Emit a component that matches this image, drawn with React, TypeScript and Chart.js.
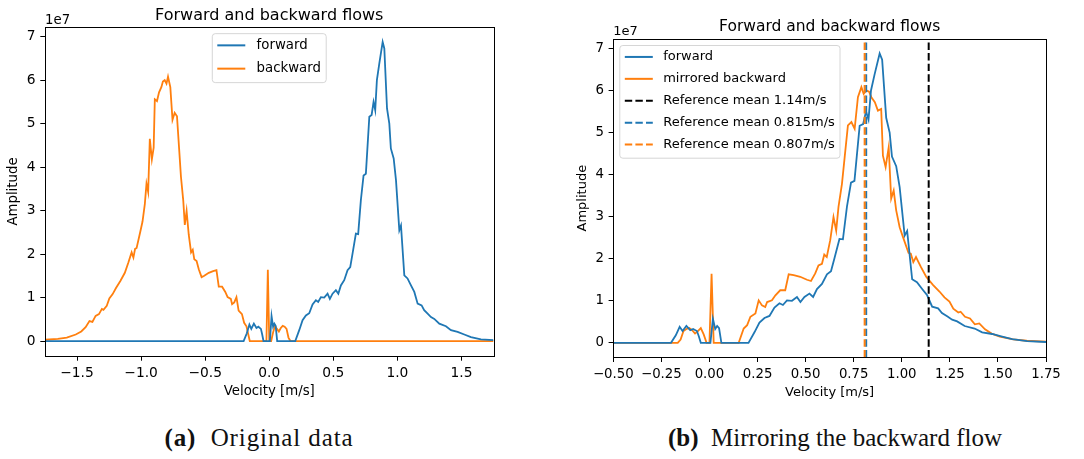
import React, { useEffect, useRef } from "react";
import { Chart, registerables } from "chart.js";

Chart.register(...registerables);

// Forward flow spectrum: velocity [m/s] and amplitude (units of 1e7)
const forwardVelocity = [
  -1.75, -0.2, -0.175, -0.155, -0.14, -0.12, -0.1, -0.085, -0.065, -0.055,
  -0.045, 0.005, 0.018, 0.03, 0.04, 0.05, 0.062, 0.203, 0.234, 0.26,
  0.286, 0.312, 0.338, 0.364, 0.382, 0.403, 0.429, 0.455, 0.473, 0.494,
  0.52, 0.539, 0.559, 0.585, 0.611, 0.632, 0.65, 0.676, 0.694, 0.715,
  0.736, 0.754, 0.781, 0.799, 0.814, 0.827, 0.84, 0.859, 0.885, 0.898,
  0.919, 0.937, 0.949, 0.971, 0.989, 1.015, 1.028, 1.054, 1.079, 1.106,
  1.132, 1.158, 1.189, 1.209, 1.236, 1.262, 1.288, 1.327, 1.379, 1.418,
  1.47, 1.522, 1.574, 1.652, 1.75,
];
const forwardAmplitude = [
  0, 0, 0.18, 0.38, 0.28, 0.4, 0.3, 0.33, 0.28, 0.15,
  0, 0, 0.57, 0.33, 0.4, 0.35, 0, 0, 0.25, 0.48,
  0.59, 0.64, 0.84, 0.94, 0.9, 1.01, 1.0, 1.09, 0.97, 1.09,
  1.17, 1.09, 1.28, 1.4, 1.63, 1.7, 2.01, 2.47, 2.46, 3.24,
  3.81, 3.85, 5.16, 5.2, 5.5, 5.31, 6.0, 6.39, 6.88, 6.73,
  5.35, 5.0, 4.43, 4.2, 3.7, 2.55, 2.66, 1.51, 1.44, 1.28,
  1.13, 0.86, 0.82, 0.71, 0.63, 0.55, 0.51, 0.4, 0.34, 0.25,
  0.21, 0.15, 0.09, 0.04, 0.02,
];

// Backward flow spectrum: velocity [m/s] and amplitude (units of 1e7)
const backwardVelocity = [
  -1.75, -1.65, -1.58, -1.51, -1.467, -1.433, -1.403, -1.38, -1.355, -1.329,
  -1.306, -1.294, -1.268, -1.248, -1.222, -1.196, -1.162, -1.127, -1.1, -1.087,
  -1.074, -1.06, -1.047, -1.035, -1.006, -0.989, -0.971, -0.958, -0.945, -0.932,
  -0.916, -0.902, -0.893, -0.876, -0.86, -0.842, -0.83, -0.816, -0.802, -0.79,
  -0.772, -0.755, -0.738, -0.72, -0.703, -0.689, -0.671, -0.659, -0.645, -0.628,
  -0.61, -0.597, -0.585, -0.567, -0.55, -0.528, -0.507, -0.472, -0.438, -0.412,
  -0.394, -0.368, -0.343, -0.325, -0.3, -0.29, -0.273, -0.256, -0.239, -0.213,
  -0.196, -0.178, -0.152, -0.022, -0.011, 0, 0.015, 0.03, 0.045, 0.06,
  0.075, 0.09, 0.105, 0.12, 0.135, 0.15, 0.165, 1.75,
];
const backwardAmplitude = [
  0.03, 0.05, 0.08, 0.15, 0.22, 0.32, 0.46, 0.44, 0.58, 0.62,
  0.74, 0.72, 0.81, 0.98, 1.08, 1.22, 1.38, 1.57, 1.8, 1.92,
  2.04, 1.92, 2.12, 2.14, 2.52, 2.75, 3.15, 3.62, 3.43, 4.65,
  4.18, 4.45, 5.56, 5.52, 5.72, 5.84, 5.97, 6.0, 5.92, 6.08,
  5.84, 5.09, 5.25, 5.17, 4.41, 3.78, 3.23, 2.67, 2.99, 2.44,
  2.04, 2.1, 1.88, 1.84, 1.65, 1.47, 1.5, 1.57, 1.61, 1.63,
  1.25, 1.25, 1.13, 1.01, 0.97, 0.85, 0.89, 1.01, 0.7, 0.62,
  0.42, 0.34, 0, 0, 1.64, 0, 0, 0.2, 0.35, 0.28,
  0.22, 0.3, 0.35, 0.33, 0.28, 0.08, 0, 0,
];

// Reference mean velocities [m/s]
const referenceMeanAll = 1.14;
const referenceMeanForward = 0.815;
const referenceMeanBackward = 0.807;

// Axis ticks
const originalTicks = [-1.5, -1, -0.5, 0, 0.5, 1, 1.5];
const originalTickLabels = ["\u22121.5", "\u22121.0", "\u22120.5", "0.0", "0.5", "1.0", "1.5"];
const mirroredTicks = [-0.5, -0.25, 0, 0.25, 0.5, 0.75, 1, 1.25, 1.5, 1.75];
const mirroredTickLabels = ["\u22120.50", "\u22120.25", "0.00", "0.25", "0.50", "0.75", "1.00", "1.25", "1.50", "1.75"];
const amplitudeTicks = [0, 1, 2, 3, 4, 5, 6, 7];
const amplitudeTickLabels = ["0", "1", "2", "3", "4", "5", "6", "7"];

const BLUE = "#1f77b4";
const ORANGE = "#ff7f0e";
const BLACK = "#000000";
const FONT = '"DejaVu Sans", sans-serif';
const DASH = [7.4, 3.2];
const TITLE = "Forward and backward flows";

const toPoints = (v: number[], a: number[]) => v.map((x, i) => ({ x, y: a[i] }));

const peak = Math.max(...forwardAmplitude, ...backwardAmplitude);
const yMin = -0.05 * peak;
const yMax = 1.05 * peak;

type Entry = { label: string; color: string; dash: number[] };
type Decor = {
  fontSize: number;
  titleSize: number;
  titleGap: number;
  offsetGap: number;
  legend: Entry[];
  placement: "center" | "left";
  pitch: number;
  textOffset: number;
  vlines: { value: number; color: string }[];
};

// Frame, mean lines, title, exponent label and legend
function decorPlugin(d: Decor) {
  return {
    id: "decor",
    afterDatasetsDraw(chart: any) {
      const { ctx, chartArea: a } = chart;
      const xs = chart.scales.x;
      ctx.save();
      ctx.beginPath();
      ctx.rect(a.left, a.top, a.right - a.left, a.bottom - a.top);
      ctx.clip();
      d.vlines.forEach((l) => {
        const px = xs.getPixelForValue(l.value);
        ctx.beginPath();
        ctx.setLineDash(DASH);
        ctx.lineWidth = 2;
        ctx.strokeStyle = l.color;
        ctx.moveTo(px, a.bottom);
        ctx.lineTo(px, a.top);
        ctx.stroke();
      });
      ctx.restore();

      ctx.save();
      ctx.setLineDash([]);
      ctx.strokeStyle = "#000";
      ctx.lineWidth = 1;
      const l = Math.round(a.left), t = Math.round(a.top);
      const r = Math.round(a.right), b = Math.round(a.bottom);
      ctx.strokeRect(l + 0.5, t + 0.5, r - l, b - t);
      ctx.restore();
    },
    afterDraw(chart: any) {
      const { ctx, chartArea: a } = chart;
      ctx.save();
      // title
      ctx.fillStyle = "#000";
      ctx.font = `${d.titleSize}px ${FONT}`;
      ctx.textAlign = "center";
      ctx.textBaseline = "alphabetic";
      ctx.fillText(TITLE, (a.left + a.right) / 2, a.top - d.titleGap);
      // exponent of the amplitude axis
      ctx.font = `${d.fontSize}px ${FONT}`;
      ctx.textAlign = "left";
      ctx.fillText("1e7", a.left, a.top - d.offsetGap);

      // legend
      const fs = d.fontSize;
      const textW = Math.max(...d.legend.map((e) => ctx.measureText(e.label).width));
      const w = d.textOffset + textW + fs * 0.4;
      const h = (d.legend.length - 1) * d.pitch + fs * 1.93;
      const left = d.placement === "center" ? (a.left + a.right) / 2 - w / 2 : a.left + fs * 0.5;
      const top = a.top + fs * 0.5;
      ctx.beginPath();
      ctx.roundRect(left, top, w, h, 3);
      ctx.fillStyle = "rgba(255,255,255,0.8)";
      ctx.fill();
      ctx.strokeStyle = "rgba(204,204,204,0.8)";
      ctx.lineWidth = 1;
      ctx.stroke();
      d.legend.forEach((e, i) => {
        const cy = top + fs * 0.88 + i * d.pitch;
        ctx.beginPath();
        ctx.setLineDash(e.dash);
        ctx.strokeStyle = e.color;
        ctx.lineWidth = 2;
        ctx.moveTo(left + 5, cy);
        ctx.lineTo(left + 33, cy);
        ctx.stroke();
        ctx.setLineDash([]);
        ctx.fillStyle = "#000";
        ctx.textBaseline = "middle";
        ctx.textAlign = "left";
        ctx.fillText(e.label, left + d.textOffset, cy);
      });
      ctx.restore();
    },
  };
}

type AxesOpts = {
  xMin: number;
  xMax: number;
  xTicks: number[];
  xLabels: string[];
  fontSize: number;
  tickSize: number;
  yWidth: number;
  xHeight: number;
  yTitlePad: number;
  xTitlePad: number;
};

function buildScales(o: AxesOpts) {
  const font = { family: FONT, size: o.fontSize };
  const tickFont = { family: FONT, size: o.tickSize };
  const grid = { display: true, drawOnChartArea: false, drawTicks: true, tickLength: 4.7, color: "#000", lineWidth: 1 };
  return {
    x: {
      type: "linear",
      min: o.xMin,
      max: o.xMax,
      afterBuildTicks: (s: any) => {
        s.ticks = o.xTicks.map((value) => ({ value }));
      },
      afterFit: (s: any) => {
        s.height = o.xHeight;
      },
      ticks: {
        font: tickFont,
        color: "#000",
        padding: 4.7,
        maxRotation: 0,
        minRotation: 0,
        autoSkip: false,
        callback: (v: number) => o.xLabels[o.xTicks.indexOf(v)],
      },
      grid,
      border: { display: false },
      title: { display: true, text: "Velocity [m/s]", font, color: "#000", padding: { top: 0, bottom: o.xTitlePad } },
    },
    y: {
      type: "linear",
      min: yMin,
      max: yMax,
      afterBuildTicks: (s: any) => {
        s.ticks = amplitudeTicks.map((value) => ({ value }));
      },
      afterFit: (s: any) => {
        s.width = o.yWidth;
      },
      ticks: {
        font: tickFont,
        color: "#000",
        padding: 4.7,
        autoSkip: false,
        callback: (v: number) => amplitudeTickLabels[amplitudeTicks.indexOf(v)],
      },
      grid,
      border: { display: false },
      title: { display: true, text: "Amplitude", font, color: "#000", padding: { top: o.yTitlePad, bottom: 0 } },
    },
  };
}

const lineStyle = (color: string) => ({
  borderColor: color,
  backgroundColor: color,
  borderWidth: 1.8,
  pointRadius: 0,
  tension: 0,
  fill: false,
});

export default function App() {
  const originalRef = useRef<HTMLCanvasElement>(null);
  const mirroredRef = useRef<HTMLCanvasElement>(null);

  useEffect(() => {
    const common = {
      responsive: false,
      animation: false,
      devicePixelRatio: 1,
      events: [],
      plugins: { legend: { display: false }, title: { display: false }, tooltip: { enabled: false } },
    };

    const original = new Chart(originalRef.current!, {
      type: "line",
      data: {
        datasets: [
          { label: "forward", data: toPoints(forwardVelocity, forwardAmplitude), ...lineStyle(BLUE) },
          { label: "backward", data: toPoints(backwardVelocity, backwardAmplitude), ...lineStyle(ORANGE) },
        ],
      },
      options: {
        ...common,
        layout: { padding: { left: 0, top: 27, right: 46.5, bottom: 0 } },
        scales: buildScales({
          xMin: -1.75,
          xMax: 1.75,
          xTicks: originalTicks,
          xLabels: originalTickLabels,
          fontSize: 13.3,
          tickSize: 13.8,
          yWidth: 45,
          xHeight: 44,
          yTitlePad: 5.3,
          xTitlePad: 0.3,
        }),
      } as any,
      plugins: [
        decorPlugin({
          fontSize: 13.3,
          titleSize: 16,
          titleGap: 7,
          offsetGap: 3,
          legend: [
            { label: "forward", color: BLUE, dash: [] },
            { label: "backward", color: ORANGE, dash: [] },
          ],
          placement: "center",
          pitch: 23.3,
          textOffset: 44.3,
          vlines: [],
        }),
      ],
    });

    const mirroredBackward = toPoints(backwardVelocity.map((v) => -v), backwardAmplitude).reverse();

    const mirrored = new Chart(mirroredRef.current!, {
      type: "line",
      data: {
        datasets: [
          { label: "forward", data: toPoints(forwardVelocity, forwardAmplitude), ...lineStyle(BLUE) },
          { label: "mirrored backward", data: mirroredBackward, ...lineStyle(ORANGE) },
        ],
      },
      options: {
        ...common,
        layout: { padding: { left: 0, top: 39, right: 38, bottom: 0 } },
        scales: buildScales({
          xMin: -0.5,
          xMax: 1.75,
          xTicks: mirroredTicks,
          xLabels: mirroredTickLabels,
          fontSize: 13,
          tickSize: 13.3,
          yWidth: 73.3,
          xHeight: 43.7,
          yTitlePad: 34.9,
          xTitlePad: 0.5,
        }),
      } as any,
      plugins: [
        decorPlugin({
          fontSize: 13,
          titleSize: 15.5,
          titleGap: 7.6,
          offsetGap: 4,
          legend: [
            { label: "forward", color: BLUE, dash: [] },
            { label: "mirrored backward", color: ORANGE, dash: [] },
            { label: `Reference mean ${referenceMeanAll}m/s`, color: BLACK, dash: DASH },
            { label: `Reference mean ${referenceMeanForward}m/s`, color: BLUE, dash: DASH },
            { label: `Reference mean ${referenceMeanBackward}m/s`, color: ORANGE, dash: DASH },
          ],
          placement: "left",
          pitch: 21.9,
          textOffset: 43.4,
          vlines: [
            { value: referenceMeanAll, color: BLACK },
            { value: referenceMeanForward, color: BLUE },
            { value: referenceMeanBackward, color: ORANGE },
          ],
        }),
      ],
    });

    return () => {
      original.destroy();
      mirrored.destroy();
    };
  }, []);

  const caption: React.CSSProperties = {
    position: "absolute",
    top: 425,
    width: 420,
    textAlign: "center",
    fontFamily: '"Liberation Serif", serif',
    fontSize: 25,
    lineHeight: "25px",
    color: "#111",
    whiteSpace: "pre",
  };

  return (
    <div style={{ position: "absolute", left: 0, top: 0, width: 1084, height: 459, background: "#fff", overflow: "hidden" }}>
      <canvas ref={originalRef} width={540} height={400} style={{ position: "absolute", left: 0, top: 0 }} />
      <canvas ref={mirroredRef} width={544} height={401} style={{ position: "absolute", left: 540, top: 0 }} />
      <div style={{ ...caption, left: 259 - 210, letterSpacing: "0.9px" }}>
        <b>(a)</b>{"  "}Original data
      </div>
      <div style={{ ...caption, left: 835 - 210, letterSpacing: "0px" }}>
        <b>(b)</b>{"  "}Mirroring the backward flow
      </div>
    </div>
  );
}
